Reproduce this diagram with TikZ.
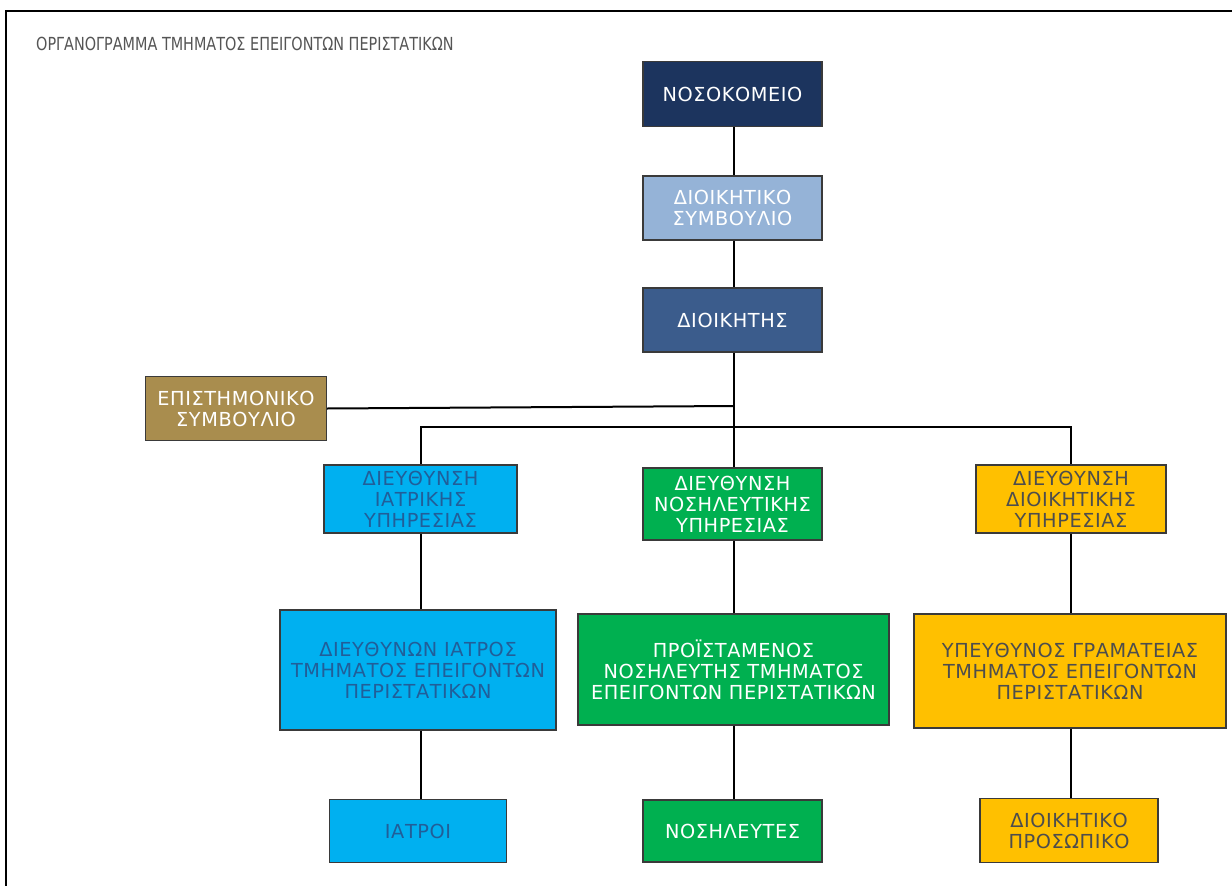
\documentclass[tikz,border=0pt]{standalone}
\usepackage{fontspec}
\setmainfont{DejaVu Sans}
\newfontfamily\boxfont[LetterSpace=3]{DejaVu Sans}
\newfontfamily\titlefont[FakeStretch=0.8]{DejaVu Sans}
\definecolor{navy}{HTML}{1C345E}
\definecolor{paleblue}{HTML}{95B3D7}
\definecolor{steel}{HTML}{3B5C8C}
\definecolor{ochre}{HTML}{A98D4E}
\definecolor{sky}{HTML}{00B0F0}
\definecolor{leaf}{HTML}{00B050}
\definecolor{amber}{HTML}{FFC000}
\definecolor{skytext}{HTML}{215E99}
\definecolor{ambertext}{HTML}{4D4D4D}
\definecolor{edge}{HTML}{3A3A3A}
\definecolor{titlegray}{HTML}{555555}
\tikzset{
  orgbox/.style={draw=edge, line width=1.1pt, inner sep=0pt, align=center,
    font=\boxfont\fontsize{19.3}{21}\selectfont},
  light/.style={text=white},
  link/.style={draw=black, line width=2pt},
}
\begin{document}
\begin{tikzpicture}[x=1pt, y=-1pt]
\useasboundingbox (0,0) rectangle (1232,886);
% page frame
\draw[line width=2.6pt] (1232,11) -- (6,11) -- (6,886);
% heading
\node[anchor=west, text=titlegray, font=\titlefont\fontsize{18}{20}\selectfont, inner sep=0pt]
  (heading) at (36,44) {ΟΡΓΑΝΟΓΡΑΜΜΑ ΤΜΗΜΑΤΟΣ ΕΠΕΙΓΟΝΤΩΝ ΠΕΡΙΣΤΑΤΙΚΩΝ};
% top of the hierarchy
\node[orgbox, light, fill=navy, minimum width=179, minimum height=65] (hosp) at (732.5,94) {ΝΟΣΟΚΟΜΕΙΟ};
\node[orgbox, light, fill=paleblue, minimum width=179, minimum height=64] (board) at (732.5,208) {ΔΙΟΙΚΗΤΙΚΟ\\ΣΥΜΒΟΥΛΙΟ};
\node[orgbox, light, fill=steel, minimum width=179, minimum height=64] (dir) at (732.5,320) {ΔΙΟΙΚΗΤΗΣ};
\node[orgbox, light, fill=ochre, minimum width=181, minimum height=64] (sci) at (236,408.5) {ΕΠΙΣΤΗΜΟΝΙΚΟ\\ΣΥΜΒΟΥΛΙΟ};
% directorates
\node[orgbox, text=skytext, fill=sky, minimum width=193, minimum height=68] (med) at (420.5,499) {ΔΙΕΥΘΥΝΣΗ\\ΙΑΤΡΙΚΗΣ\\ΥΠΗΡΕΣΙΑΣ};
\node[orgbox, light, fill=leaf, minimum width=179, minimum height=72] (nurs) at (732.5,504) {ΔΙΕΥΘΥΝΣΗ\\ΝΟΣΗΛΕΥΤΙΚΗΣ\\ΥΠΗΡΕΣΙΑΣ};
\node[orgbox, text=ambertext, fill=amber, minimum width=190, minimum height=68] (adm) at (1071,499) {ΔΙΕΥΘΥΝΣΗ\\ΔΙΟΙΚΗΤΙΚΗΣ\\ΥΠΗΡΕΣΙΑΣ};
% department heads
\node[orgbox, text=skytext, fill=sky, minimum width=276, minimum height=120] (medhead) at (418,670) {ΔΙΕΥΘΥΝΩΝ ΙΑΤΡΟΣ\\ΤΜΗΜΑΤΟΣ ΕΠΕΙΓΟΝΤΩΝ\\ΠΕΡΙΣΤΑΤΙΚΩΝ};
\node[orgbox, light, fill=leaf, minimum width=311, minimum height=111] (nurshead) at (733.5,669.5) {ΠΡΟΪΣΤΑΜΕΝΟΣ\\ΝΟΣΗΛΕΥΤΗΣ ΤΜΗΜΑΤΟΣ\\ΕΠΕΙΓΟΝΤΩΝ ΠΕΡΙΣΤΑΤΙΚΩΝ};
\node[orgbox, text=ambertext, fill=amber, minimum width=312, minimum height=114] (admhead) at (1070,671) {ΥΠΕΥΘΥΝΟΣ ΓΡΑΜΑΤΕΙΑΣ\\ΤΜΗΜΑΤΟΣ ΕΠΕΙΓΟΝΤΩΝ\\ΠΕΡΙΣΤΑΤΙΚΩΝ};
% staff
\node[orgbox, text=skytext, fill=sky, minimum width=177, minimum height=63] (doctors) at (418,831) {ΙΑΤΡΟΙ};
\node[orgbox, light, fill=leaf, minimum width=179, minimum height=62] (nurses) at (732.5,831) {ΝΟΣΗΛΕΥΤΕΣ};
\node[orgbox, text=ambertext, fill=amber, minimum width=178, minimum height=64] (staff) at (1069,830.5) {ΔΙΟΙΚΗΤΙΚΟ\\ΠΡΟΣΩΠΙΚΟ};
% junction points
\coordinate (sciJoin) at (734,406);
\coordinate (bus) at (734,427);
% connectors
\draw[link] (hosp.south -| 734,0) -- (board.north -| 734,0);
\draw[link] (board.south -| 734,0) -- (dir.north -| 734,0);
\draw[link] (dir.south -| 734,0) -- (nurs.north -| 734,0);
\draw[link] (sci.east) -- (sciJoin);
\draw[link] (med.north) -- (med.north |- bus) -- (adm.north |- bus) -- (adm.north);
\draw[link] (med.south) -- (med.south |- medhead.north);
\draw[link] (medhead.south -| med.south) -- (doctors.north -| med.south);
\draw[link] (nurs.south -| 734,0) -- (nurshead.north -| 734,0);
\draw[link] (nurshead.south -| 734,0) -- (nurses.north -| 734,0);
\draw[link] (adm.south) -- (adm.south |- admhead.north);
\draw[link] (admhead.south -| adm.south) -- (staff.north -| adm.south);
\end{tikzpicture}
\end{document}
